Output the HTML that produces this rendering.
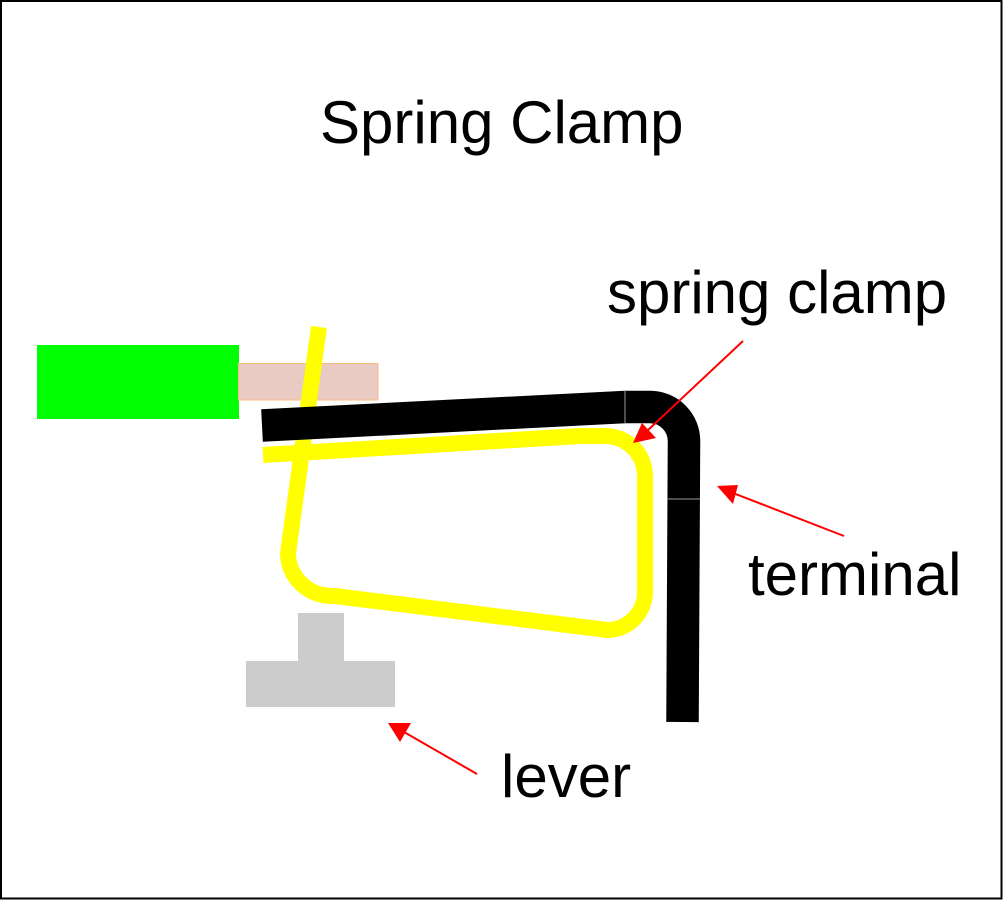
<!DOCTYPE html>
<html>
<head>
<meta charset="utf-8">
<style>
  html, body { margin: 0; padding: 0; background: #fff; }
  svg { display: block; }
  text { font-family: "Liberation Sans", Arial, sans-serif; fill: #000; }
</style>
</head>
<body>
<svg width="1004" height="901" viewBox="0 0 1004 901" xmlns="http://www.w3.org/2000/svg">
  <rect x="0" y="0" width="1004" height="901" fill="#fff"/>
  <rect x="1" y="1" width="1000.5" height="897.5" fill="none" stroke="#000" stroke-width="2"/>

  <text x="320" y="143" font-size="60">Spring Clamp</text>

  <!-- wire -->
  <rect x="37" y="345" width="202" height="74" fill="#00ff00"/>
  <rect x="238.5" y="363.5" width="139.5" height="36.5" fill="#e9cbc3" stroke="#f8bc7c" stroke-width="1"/>

  <!-- spring (yellow) -->
  <path d="M263,455 L580,436 L605,436 A40,40 0 0 1 645,476 L645,592 A38,38 0 0 1 607,630 L335,596 L332,596 A44,43 0 0 1 288,553 L289,546 L319,327"
        fill="none" stroke="#ffff00" stroke-width="16" stroke-linejoin="miter" stroke-linecap="butt"/>

  <!-- terminal (black) -->
  <path d="M262,425.5 L625,407 L650,407 A34,34 0 0 1 684,441 L682.5,722"
        fill="none" stroke="#000" stroke-width="32.5" stroke-linecap="butt" stroke-linejoin="miter"/>
  <line x1="625" y1="391" x2="625" y2="423" stroke="#9a9a9a" stroke-width="1"/>
  <line x1="667" y1="499" x2="700" y2="499" stroke="#9a9a9a" stroke-width="1"/>

  <!-- lever -->
  <rect x="298" y="613" width="46" height="49" fill="#cccccc"/>
  <rect x="246" y="661" width="149" height="46" fill="#cccccc"/>

  <!-- arrows -->
  <line x1="743" y1="341" x2="647" y2="431" stroke="#ff0000" stroke-width="2"/>
  <polygon points="633,443 642,423 656,438" fill="#ff0000"/>

  <line x1="844" y1="536" x2="733" y2="493" stroke="#ff0000" stroke-width="2"/>
  <polygon points="717,486 738,485 733,504" fill="#ff0000"/>

  <line x1="477" y1="774" x2="404" y2="732" stroke="#ff0000" stroke-width="2"/>
  <polygon points="388,723 411,723 400,742" fill="#ff0000"/>

  <!-- labels -->
  <text x="607" y="313" font-size="60">spring clamp</text>
  <text x="748" y="595" font-size="60">terminal</text>
  <text x="501" y="797" font-size="60">lever</text>
</svg>
</body>
</html>
